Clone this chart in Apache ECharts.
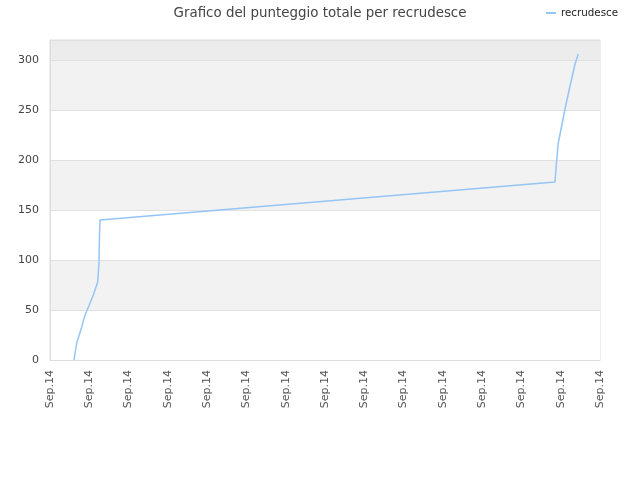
<!DOCTYPE html>
<html>
<head>
<meta charset="utf-8">
<script src="https://cdn.jsdelivr.net/npm/echarts@6/dist/echarts.min.js"></script>
<style>html,body{margin:0;padding:0;background:#fff}#c{width:640px;height:480px}</style>
</head>
<body>
<div id="c"></div>
<script>
var seriesName = 'recrudesce';
var titleText = 'Grafico del punteggio totale per recrudesce';
var xTickLabel = 'Sep.14';
// x positions in axis units (tick spacing = 1), y values = score
var xPos = [0.611, 0.680, 0.807, 0.891, 1.000, 1.102, 1.214, 1.229, 1.247, 1.260, 1.273, 12.854, 12.897, 12.938, 13.110, 13.237, 13.365, 13.447];
var scores = [0, 17, 33, 45, 55, 65, 78, 80, 97, 125, 140, 178, 200, 217, 251, 274, 296, 306];

var data = xPos.map(function (x, i) { return [x, scores[i]]; });

var chart = echarts.init(document.getElementById('c'));
chart.setOption({
  animation: false,
  backgroundColor: '#ffffff',
  title: {
    text: titleText,
    left: 'center',
    top: 2,
    textStyle: { fontFamily: 'DejaVu Sans', fontSize: 13.4, fontWeight: 'normal', color: '#444' }
  },
  legend: {
    right: 17,
    top: 3,
    icon: 'rect',
    itemWidth: 10,
    itemHeight: 2,
    itemGap: 8,
    textStyle: { fontFamily: 'DejaVu Sans', fontSize: 10.3, color: '#222' },
    data: [seriesName]
  },
  grid: {
    left: 50, right: 40, top: 40, bottom: 120,
    show: true, borderColor: '#dddddd', borderWidth: 1, backgroundColor: 'transparent'
  },
  xAxis: {
    type: 'value',
    min: 0, max: 14, interval: 1,
    axisLine: { show: true, lineStyle: { color: '#dddddd' } },
    axisTick: { show: false },
    splitLine: { show: false },
    axisLabel: {
      rotate: 90,
      margin: 10,
      fontFamily: 'DejaVu Sans', fontSize: 11, color: '#555',
      formatter: function () { return xTickLabel; }
    }
  },
  yAxis: {
    type: 'value',
    min: 0, max: 320, interval: 50,
    axisLine: { show: true, lineStyle: { color: '#dddddd' } },
    axisTick: { show: false },
    splitLine: { show: true, lineStyle: { color: '#e0e0e0' } },
    splitArea: { show: true, areaStyle: { color: ['#ffffff', '#f2f2f2', '#ffffff', '#f2f2f2', '#ffffff', '#f2f2f2', '#ececec'] } },
    axisLabel: {
      margin: 11,
      fontFamily: 'DejaVu Sans', fontSize: 11, color: '#444',
      formatter: function (v) { return v % 50 === 0 ? String(v) : ''; }
    }
  },
  series: [{
    name: seriesName,
    type: 'line',
    data: data,
    showSymbol: false,
    symbol: 'none',
    lineStyle: { color: '#95c5f5', width: 1.5 },
    itemStyle: { color: '#95c5f5' }
  }]
});
</script>
</body>
</html>
